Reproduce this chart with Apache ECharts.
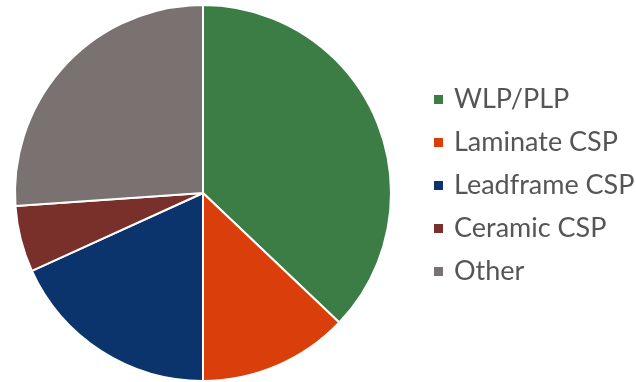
<!DOCTYPE html>
<html>
<head>
<meta charset="utf-8">
<script src="https://cdn.jsdelivr.net/npm/echarts@6/dist/echarts.min.js"></script>
<style>html,body{margin:0;padding:0;background:#fff}#c{width:636px;height:382px}</style>
</head>
<body>
<div id="c"></div>
<script>
const categories = ['WLP/PLP', 'Laminate CSP', 'Leadframe CSP', 'Ceramic CSP', 'Other'];
const values = [37.1, 12.9, 18.2, 5.7, 26.1];
const colors = ['#3B7D45', '#DA3F0B', '#0B346C', '#7A302A', '#7A7171'];

const chart = echarts.init(document.getElementById('c'), null, {renderer: 'canvas'});
chart.setOption({
  animation: false,
  color: colors,
  legend: {
    orient: 'vertical',
    left: 432,
    top: 86,
    padding: 0,
    itemWidth: 11,
    itemHeight: 11,
    itemGap: 16,
    icon: 'rect',
    textStyle: {
      fontFamily: 'Lato',
      fontSize: 27,
      lineHeight: 27,
      color: '#555555',
      padding: [0, 0, 0, 5]
    },
    data: categories
  },
  series: [{
    type: 'pie',
    center: [203, 193],
    radius: 188,
    startAngle: 90,
    clockwise: true,
    label: {show: false},
    labelLine: {show: false},
    emphasis: {disabled: true},
    itemStyle: {borderColor: '#fff', borderWidth: 2},
    data: categories.map((n, i) => ({name: n, value: values[i]}))
  }]
});
</script>
</body>
</html>
